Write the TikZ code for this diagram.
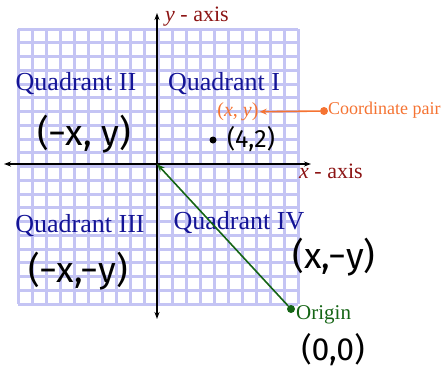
\documentclass[tikz,border=0pt]{standalone}
\usepackage{fontspec}
\setmainfont{Liberation Serif}
\newfontfamily\handfont{Fira Sans}
\usetikzlibrary{arrows.meta}
\definecolor{gridblue}{RGB}{196,196,244}
\definecolor{quadblue}{RGB}{20,20,150}
\definecolor{axisred}{RGB}{140,20,20}
\definecolor{pairorange}{RGB}{245,115,50}
\definecolor{origingreen}{RGB}{20,100,20}
\tikzstyle{quad} = [text=quadblue, font=\fontsize{26}{26}\selectfont, inner sep=0pt]
\tikzstyle{hand} = [text=black, font=\handfont\fontsize{36}{36}\selectfont, inner sep=0pt]
\tikzstyle{axislabel} = [text=axisred, font=\fontsize{22}{22}\selectfont, inner sep=0pt]
\tikzstyle{axis} = [line width=1.4pt, {Stealth[length=7pt,width=5pt]}-{Stealth[length=7pt,width=5pt]}]
\tikzstyle{dot} = [circle, inner sep=0pt, minimum size=8pt]
\begin{document}
\begin{tikzpicture}[x=1pt, y=-1pt]
    \useasboundingbox (0,0) rectangle (442,370);
    % grid
    \foreach \i in {0,...,20} {
        \draw [gridblue, line width=3pt] (18+14*\i,29) -- (18+14*\i,304);
        \draw [gridblue, line width=3pt] (18,29+13.75*\i) -- (298,29+13.75*\i);
    }
    % axes
    \coordinate (xl) at (4,164);
    \coordinate (xr) at (311,164);
    \coordinate (yt) at (157,13);
    \coordinate (yb) at (157,319);
    \coordinate (o) at (157,164);
    \draw [axis] (xl) -- (xr);
    \draw [axis] (yb) -- (yt);
    \node (ylab)[axislabel, anchor=west] at (165,17) {\textit{y} - axis};
    \node (xlab)[axislabel, anchor=west] at (299,171) {\textit{x} - axis};
    % quadrants
    \node (q2)[quad] at (76,84) {Quadrant II};
    \node (q1)[quad] at (224,84) {Quadrant I};
    \node (q3)[quad] at (80,226) {Quadrant III};
    \node (q4)[quad] at (239,223) {Quadrant IV};
    % signs
    \node (s2)[hand] at (84,134) {(−x, y)};
    \node (s3)[hand] at (78,271) {(−x,−y)};
    \node (s4)[hand] at (334,257) {(x,−y)};
    \node (p)[dot, fill=black, minimum size=7pt] at (213,140) {};
    \node (plab)[hand, font=\handfont\fontsize{25}{25}\selectfont, anchor=west] at (227,139) {(4,2)};
    % coordinate pair
    \node (xy)[text=pairorange, font=\fontsize{20}{20}\selectfont, inner sep=1pt] at (238,112) {(\textit{x}, \textit{y})};
    \node (cp)[dot, fill=pairorange] at (324,111) {};
    \node (cplab)[text=pairorange, font=\fontsize{18}{18}\selectfont, anchor=west, inner sep=0pt] at (328,110) {Coordinate pair};
    \draw [pairorange, line width=1.6pt, -{Stealth[length=7pt,width=6pt]}] (cp) -- (xy);
    % origin
    \node (org)[dot, fill=origingreen] at (291,309) {};
    \node (orglab)[text=origingreen, font=\fontsize{21}{21}\selectfont, anchor=west, inner sep=0pt] at (296,315) {Origin};
    \node (zero)[hand, font=\handfont\fontsize{32}{32}\selectfont] at (333,350) {(0,0)};
    \draw [origingreen, line width=1.6pt, -{Stealth[length=8pt,width=6pt]}] (org) -- (o);
\end{tikzpicture}
\end{document}
